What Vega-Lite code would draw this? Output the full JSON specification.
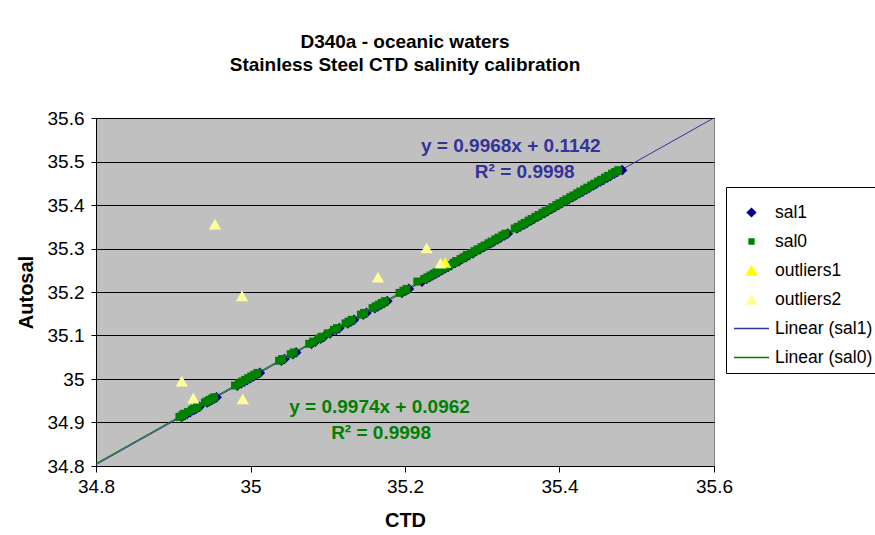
{
  "$schema": "https://vega.github.io/schema/vega-lite/v6.json",
  "width": 618,
  "height": 348,
  "autosize": {"type": "none"},
  "padding": {"left": 96, "top": 118, "right": 161, "bottom": 69},
  "background": "white",
  "config": {
    "font": "Liberation Sans",
    "view": {"fill": "#C0C0C0", "stroke": "#808080", "strokeWidth": 1}
  },
  "title": {
    "text": ["D340a - oceanic waters", "Stainless Steel CTD salinity calibration"],
    "font": "Liberation Sans",
    "fontSize": 19,
    "fontWeight": "bold",
    "color": "#000000",
    "anchor": "middle",
    "lineHeight": 23,
    "offset": 34
  },
  "datasets": {
    "cal": [
      {"autosal": 34.913, "sal0": 34.908, "sal1": 34.911},
      {"autosal": 34.917, "sal0": 34.912, "sal1": 34.915},
      {"autosal": 34.920, "sal0": 34.914, "sal1": 34.918},
      {"autosal": 34.924, "sal0": 34.919, "sal1": 34.922},
      {"autosal": 34.929, "sal0": 34.924, "sal1": 34.927},
      {"autosal": 34.932, "sal0": 34.927, "sal1": 34.930},
      {"autosal": 34.936, "sal0": 34.931, "sal1": 34.934},
      {"autosal": 34.946, "sal0": 34.941, "sal1": 34.944},
      {"autosal": 34.949, "sal0": 34.944, "sal1": 34.947},
      {"autosal": 34.952, "sal0": 34.947, "sal1": 34.950},
      {"autosal": 34.955, "sal0": 34.950, "sal1": 34.953},
      {"autosal": 34.958, "sal0": 34.953, "sal1": 34.956},
      {"autosal": 34.985, "sal0": 34.980, "sal1": 34.983},
      {"autosal": 34.990, "sal0": 34.985, "sal1": 34.988},
      {"autosal": 34.994, "sal0": 34.989, "sal1": 34.992},
      {"autosal": 34.998, "sal0": 34.993, "sal1": 34.996},
      {"autosal": 35.002, "sal0": 34.997, "sal1": 35.000},
      {"autosal": 35.006, "sal0": 35.001, "sal1": 35.004},
      {"autosal": 35.010, "sal0": 35.005, "sal1": 35.008},
      {"autosal": 35.014, "sal0": 35.009, "sal1": 35.012},
      {"autosal": 35.042, "sal0": 35.037, "sal1": 35.040},
      {"autosal": 35.046, "sal0": 35.041, "sal1": 35.044},
      {"autosal": 35.057, "sal0": 35.052, "sal1": 35.055},
      {"autosal": 35.061, "sal0": 35.056, "sal1": 35.059},
      {"autosal": 35.081, "sal0": 35.076, "sal1": 35.079},
      {"autosal": 35.086, "sal0": 35.081, "sal1": 35.084},
      {"autosal": 35.093, "sal0": 35.088, "sal1": 35.091},
      {"autosal": 35.097, "sal0": 35.092, "sal1": 35.095},
      {"autosal": 35.105, "sal0": 35.100, "sal1": 35.103},
      {"autosal": 35.113, "sal0": 35.108, "sal1": 35.111},
      {"autosal": 35.117, "sal0": 35.112, "sal1": 35.115},
      {"autosal": 35.128, "sal0": 35.123, "sal1": 35.126},
      {"autosal": 35.132, "sal0": 35.127, "sal1": 35.130},
      {"autosal": 35.136, "sal0": 35.131, "sal1": 35.134},
      {"autosal": 35.148, "sal0": 35.143, "sal1": 35.146},
      {"autosal": 35.152, "sal0": 35.147, "sal1": 35.150},
      {"autosal": 35.163, "sal0": 35.158, "sal1": 35.161},
      {"autosal": 35.167, "sal0": 35.162, "sal1": 35.165},
      {"autosal": 35.171, "sal0": 35.166, "sal1": 35.169},
      {"autosal": 35.175, "sal0": 35.170, "sal1": 35.173},
      {"autosal": 35.179, "sal0": 35.174, "sal1": 35.177},
      {"autosal": 35.198, "sal0": 35.193, "sal1": 35.196},
      {"autosal": 35.203, "sal0": 35.198, "sal1": 35.201},
      {"autosal": 35.207, "sal0": 35.202, "sal1": 35.205},
      {"autosal": 35.224, "sal0": 35.216, "sal1": 35.222},
      {"autosal": 35.230, "sal0": 35.225, "sal1": 35.228},
      {"autosal": 35.234, "sal0": 35.229, "sal1": 35.232},
      {"autosal": 35.238, "sal0": 35.233, "sal1": 35.236},
      {"autosal": 35.242, "sal0": 35.237, "sal1": 35.240},
      {"autosal": 35.246, "sal0": 35.241, "sal1": 35.244},
      {"autosal": 35.250, "sal0": 35.245, "sal1": 35.248},
      {"autosal": 35.254, "sal0": 35.249, "sal1": 35.252},
      {"autosal": 35.258, "sal0": 35.253, "sal1": 35.256},
      {"autosal": 35.262, "sal0": 35.257, "sal1": 35.260},
      {"autosal": 35.267, "sal0": 35.263, "sal1": 35.265},
      {"autosal": 35.271, "sal0": 35.266, "sal1": 35.270},
      {"autosal": 35.276, "sal0": 35.272, "sal1": 35.274},
      {"autosal": 35.280, "sal0": 35.276, "sal1": 35.279},
      {"autosal": 35.285, "sal0": 35.280, "sal1": 35.283},
      {"autosal": 35.289, "sal0": 35.285, "sal1": 35.288},
      {"autosal": 35.294, "sal0": 35.290, "sal1": 35.292},
      {"autosal": 35.298, "sal0": 35.294, "sal1": 35.297},
      {"autosal": 35.303, "sal0": 35.299, "sal1": 35.302},
      {"autosal": 35.307, "sal0": 35.303, "sal1": 35.306},
      {"autosal": 35.312, "sal0": 35.308, "sal1": 35.311},
      {"autosal": 35.316, "sal0": 35.312, "sal1": 35.315},
      {"autosal": 35.321, "sal0": 35.317, "sal1": 35.320},
      {"autosal": 35.325, "sal0": 35.321, "sal1": 35.324},
      {"autosal": 35.330, "sal0": 35.326, "sal1": 35.329},
      {"autosal": 35.334, "sal0": 35.330, "sal1": 35.333},
      {"autosal": 35.346, "sal0": 35.342, "sal1": 35.345},
      {"autosal": 35.350, "sal0": 35.346, "sal1": 35.349},
      {"autosal": 35.355, "sal0": 35.351, "sal1": 35.354},
      {"autosal": 35.359, "sal0": 35.355, "sal1": 35.358},
      {"autosal": 35.364, "sal0": 35.360, "sal1": 35.363},
      {"autosal": 35.368, "sal0": 35.364, "sal1": 35.367},
      {"autosal": 35.373, "sal0": 35.369, "sal1": 35.372},
      {"autosal": 35.377, "sal0": 35.373, "sal1": 35.376},
      {"autosal": 35.382, "sal0": 35.378, "sal1": 35.381},
      {"autosal": 35.386, "sal0": 35.382, "sal1": 35.385},
      {"autosal": 35.391, "sal0": 35.387, "sal1": 35.390},
      {"autosal": 35.395, "sal0": 35.391, "sal1": 35.394},
      {"autosal": 35.400, "sal0": 35.396, "sal1": 35.399},
      {"autosal": 35.404, "sal0": 35.400, "sal1": 35.403},
      {"autosal": 35.409, "sal0": 35.405, "sal1": 35.408},
      {"autosal": 35.413, "sal0": 35.409, "sal1": 35.412},
      {"autosal": 35.418, "sal0": 35.414, "sal1": 35.417},
      {"autosal": 35.422, "sal0": 35.418, "sal1": 35.421},
      {"autosal": 35.427, "sal0": 35.423, "sal1": 35.426},
      {"autosal": 35.431, "sal0": 35.427, "sal1": 35.430},
      {"autosal": 35.436, "sal0": 35.432, "sal1": 35.435},
      {"autosal": 35.440, "sal0": 35.436, "sal1": 35.439},
      {"autosal": 35.445, "sal0": 35.441, "sal1": 35.444},
      {"autosal": 35.449, "sal0": 35.445, "sal1": 35.448},
      {"autosal": 35.454, "sal0": 35.450, "sal1": 35.453},
      {"autosal": 35.458, "sal0": 35.454, "sal1": 35.457},
      {"autosal": 35.463, "sal0": 35.459, "sal1": 35.462},
      {"autosal": 35.467, "sal0": 35.463, "sal1": 35.466},
      {"autosal": 35.472, "sal0": 35.468, "sal1": 35.471},
      {"autosal": 35.476, "sal0": 35.472, "sal1": 35.475},
      {"autosal": 35.480, "sal0": 35.476, "sal1": 35.481}
    ],
    "outliers": [
      {"series": "outliers1", "ctd": 35.252, "autosal": 35.268},
      {"series": "outliers2", "ctd": 34.954, "autosal": 35.356},
      {"series": "outliers2", "ctd": 34.989, "autosal": 35.191},
      {"series": "outliers2", "ctd": 34.911, "autosal": 34.995},
      {"series": "outliers2", "ctd": 34.926, "autosal": 34.956},
      {"series": "outliers2", "ctd": 34.990, "autosal": 34.954},
      {"series": "outliers2", "ctd": 35.165, "autosal": 35.234},
      {"series": "outliers2", "ctd": 35.228, "autosal": 35.301},
      {"series": "outliers2", "ctd": 35.246, "autosal": 35.266}
    ],
    "trend": [
      {"series": "Linear (sal1)", "ctd": 34.8, "autosal": 34.80304},
      {"series": "Linear (sal1)", "ctd": 35.6, "autosal": 35.60028},
      {"series": "Linear (sal0)", "ctd": 34.8, "autosal": 34.80572},
      {"series": "Linear (sal0)", "ctd": 35.48, "autosal": 35.48395}
    ],
    "equations": [
      {"fit": "sal1", "label": "y = 0.9968x + 0.1142", "ctd": 35.337, "autosal": 35.536},
      {"fit": "sal1", "label": "R² = 0.9998", "ctd": 35.355, "autosal": 35.476},
      {"fit": "sal0", "label": "y = 0.9974x + 0.0962", "ctd": 35.167, "autosal": 34.936},
      {"fit": "sal0", "label": "R² = 0.9998", "ctd": 35.169, "autosal": 34.876}
    ]
  },
  "encoding": {
    "y": {
      "type": "quantitative",
      "scale": {"domain": [34.8, 35.6], "nice": false, "zero": false},
      "axis": {
        "title": "Autosal",
        "titleFont": "Liberation Sans",
        "titleFontSize": 20,
        "titleFontWeight": "bold",
        "titleColor": "#000000",
        "titlePadding": 11,
        "values": [34.8, 34.9, 35.0, 35.1, 35.2, 35.3, 35.4, 35.5, 35.6],
        "format": "~g",
        "labelFont": "Liberation Sans",
        "labelFontSize": 19,
        "labelColor": "#000000",
        "labelPadding": 7,
        "labelFlush": false,
        "labelOverlap": false,
        "tickSize": 5,
        "tickColor": "#000000",
        "domainColor": "#000000",
        "grid": true,
        "gridColor": "#000000",
        "gridWidth": 1
      }
    }
  },
  "layer": [
    {
      "data": {"name": "trend"},
      "transform": [{"filter": "datum.series === 'Linear (sal1)'"}],
      "mark": {"type": "line", "strokeWidth": 1, "clip": true},
      "encoding": {
        "x": {
          "field": "ctd",
          "type": "quantitative",
          "scale": {"domain": [34.8, 35.6], "nice": false, "zero": false},
          "axis": {
            "title": "CTD",
            "titleFont": "Liberation Sans",
            "titleFontSize": 20,
            "titleFontWeight": "bold",
            "titleColor": "#000000",
            "titlePadding": 14,
            "values": [34.8, 35.0, 35.2, 35.4, 35.6],
            "format": "~g",
            "labelFont": "Liberation Sans",
            "labelFontSize": 19,
            "labelColor": "#000000",
            "labelPadding": 5,
            "labelFlush": false,
            "labelOverlap": false,
            "tickSize": 6,
            "tickColor": "#000000",
            "domainColor": "#000000",
            "grid": false
          }
        },
        "y": {"field": "autosal"},
        "color": {
          "field": "series",
          "type": "nominal",
          "scale": {
            "domain": ["sal1", "sal0", "outliers1", "outliers2", "Linear (sal1)", "Linear (sal0)"],
            "range": ["#000080", "#008000", "#FFFF00", "#FFFF99", "#333399", "#008000"]
          },
          "legend": {
            "title": null,
            "orient": "none",
            "legendX": 630,
            "legendY": 69,
            "direction": "vertical",
            "padding": 7,
            "rowPadding": 2,
            "symbolSize": 400,
            "labelOffset": 5,
            "labelFont": "Liberation Sans",
            "labelFontSize": 17.5,
            "labelColor": "#000000",
            "strokeColor": "#000000",
            "fillColor": "#FFFFFF",
            "encode": {
              "symbols": {
                "update": {
                  "shape": {"signal": "datum.value === 'sal1' ? 'diamond' : datum.value === 'sal0' ? 'square' : (datum.value === 'outliers1' || datum.value === 'outliers2') ? 'triangle-up' : 'stroke'"},
                  "size": {"signal": "datum.value === 'sal1' ? 70 : datum.value === 'sal0' ? 25 : (datum.value === 'outliers1' || datum.value === 'outliers2') ? 110 : 1225"},
                  "fill": {"signal": "indexof(datum.value, 'Linear') === 0 ? 'transparent' : scale('color', datum.value)"},
                  "stroke": {"signal": "indexof(datum.value, 'Linear') === 0 ? scale('color', datum.value) : 'transparent'"},
                  "strokeWidth": {"value": 1.3},
                  "opacity": {"value": 1},
                  "fillOpacity": {"value": 1},
                  "strokeOpacity": {"value": 1}
                }
              }
            }
          }
        }
      }
    },
    {
      "data": {"name": "trend"},
      "transform": [{"filter": "datum.series === 'Linear (sal0)'"}],
      "mark": {"type": "line", "strokeWidth": 1, "clip": true},
      "encoding": {
        "x": {"field": "ctd", "type": "quantitative"},
        "y": {"field": "autosal"},
        "color": {"field": "series", "type": "nominal"}
      }
    },
    {
      "data": {"name": "cal"},
      "mark": {"type": "point", "shape": "diamond", "filled": true, "size": 115, "opacity": 1},
      "encoding": {
        "x": {"field": "sal1", "type": "quantitative"},
        "y": {"field": "autosal"},
        "color": {"datum": "sal1", "type": "nominal"}
      }
    },
    {
      "data": {"name": "cal"},
      "mark": {"type": "point", "shape": "square", "filled": true, "size": 64, "opacity": 1},
      "encoding": {
        "x": {"field": "sal0", "type": "quantitative"},
        "y": {"field": "autosal"},
        "color": {"datum": "sal0", "type": "nominal"}
      }
    },
    {
      "data": {"name": "outliers"},
      "mark": {"type": "point", "shape": "triangle-up", "filled": true, "size": 150, "opacity": 1},
      "encoding": {
        "x": {"field": "ctd", "type": "quantitative"},
        "y": {"field": "autosal"},
        "color": {"field": "series", "type": "nominal"}
      }
    },
    {
      "data": {"name": "equations"},
      "transform": [{"filter": "datum.fit === 'sal1'"}],
      "mark": {"type": "text", "font": "Liberation Sans", "fontSize": 19, "fontWeight": "bold", "color": "#333399", "align": "center", "baseline": "middle"},
      "encoding": {
        "x": {"field": "ctd", "type": "quantitative"},
        "y": {"field": "autosal"},
        "text": {"field": "label"}
      }
    },
    {
      "data": {"name": "equations"},
      "transform": [{"filter": "datum.fit === 'sal0'"}],
      "mark": {"type": "text", "font": "Liberation Sans", "fontSize": 19, "fontWeight": "bold", "color": "#008000", "align": "center", "baseline": "middle"},
      "encoding": {
        "x": {"field": "ctd", "type": "quantitative"},
        "y": {"field": "autosal"},
        "text": {"field": "label"}
      }
    }
  ]
}
